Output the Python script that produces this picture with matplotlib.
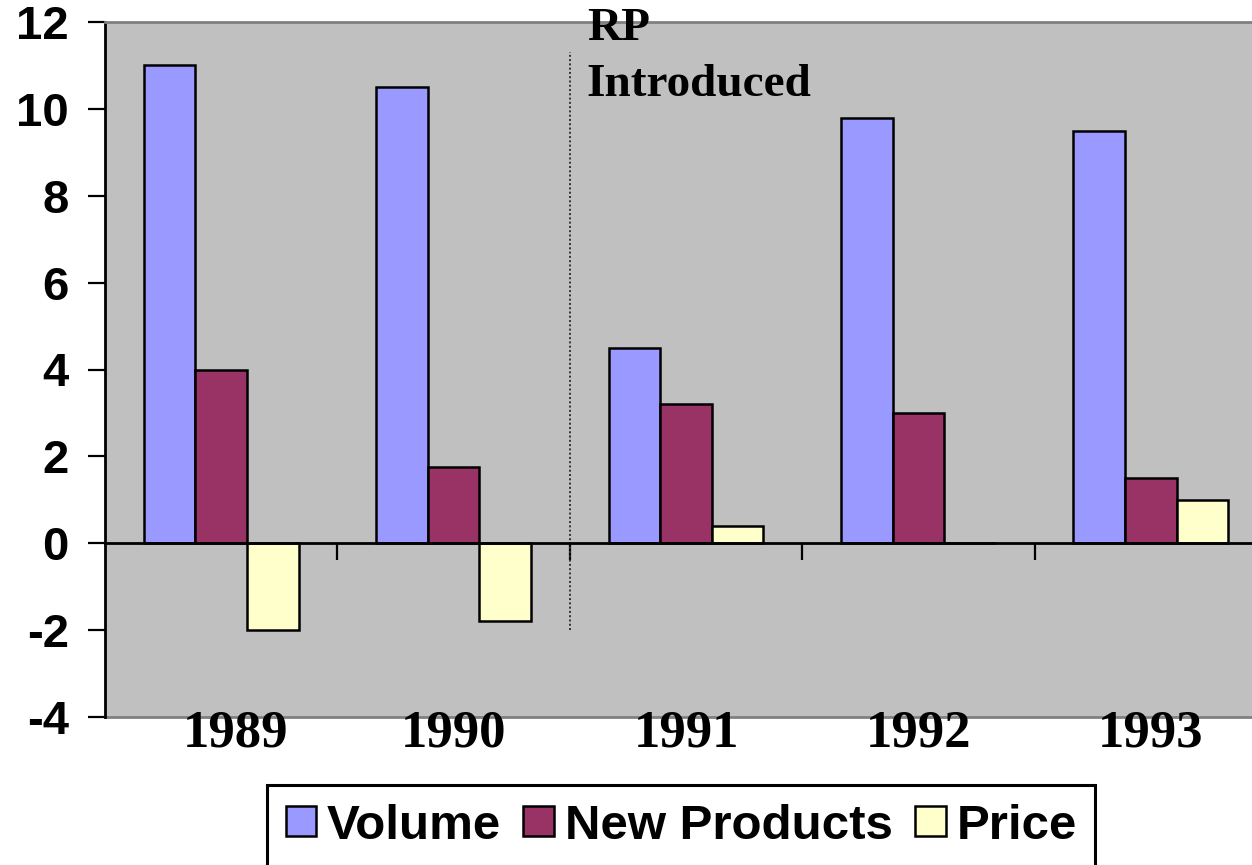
import numpy as np
import matplotlib.pyplot as plt
from matplotlib.lines import Line2D

plt.rcParams['axes.unicode_minus'] = False

years = ['1989', '1990', '1991', '1992', '1993']
volume = [11.0, 10.5, 4.5, 9.8, 9.5]
new_products = [4.0, 1.75, 3.2, 3.0, 1.5]
price = [-2.0, -1.8, 0.4, 0.0, 1.0]

series = [('Volume', volume, '#9999FF'),
          ('New Products', new_products, '#993366'),
          ('Price', price, '#FFFFCC')]

fig = plt.figure(figsize=(12.52, 8.65), dpi=100)
ax = fig.add_axes([105 / 1252, 148 / 865, 1162 / 1252, 695 / 865])
ax.set_facecolor('#C0C0C0')

x = np.arange(len(years))
w = 0.222
for i, (name, vals, col) in enumerate(series):
    ax.bar(x + (i - 1) * w, vals, w, color=col, edgecolor='black',
           linewidth=1.8, label=name, zorder=3)

ax.set_xlim(-0.5, len(years) - 0.5)
ax.set_ylim(-4, 12)
ax.set_yticks(range(-4, 13, 2))

# category axis sits on the zero line
ax.spines['bottom'].set_position(('data', 0))
ax.spines['bottom'].set_linewidth(2)
ax.spines['bottom'].set_zorder(4)
ax.spines['left'].set_linewidth(2)
ax.spines['right'].set_visible(False)
ax.spines['top'].set_color('#808080')
ax.spines['top'].set_linewidth(2)
ax.set_xticks(x[:-1] + 0.5)
ax.set_xticklabels([])
ax.tick_params(axis='x', direction='out', length=12, width=1.6)
ax.tick_params(axis='y', direction='out', length=12, width=1.6, pad=14)
for lab in ax.get_yticklabels():
    lab.set_fontfamily('Liberation Sans')
    lab.set_fontweight('bold')
    lab.set_fontsize(34)

# lower border of the plot area
ax.add_line(Line2D([0, 1], [0, 0], transform=ax.transAxes, color='#808080',
                   lw=2, clip_on=False, zorder=2))

# year labels below the plot; the first one nudged clear of the "-4" label
label_shift = [0.06, 0, 0, 0, 0]
for xi, yr, dx in zip(x, years, label_shift):
    ax.text(xi + dx, -4.68, yr, ha='center', va='baseline', fontsize=38,
            fontfamily='Liberation Serif', fontweight='bold', clip_on=False,
            zorder=6)

# marker between 1990 and 1991
ax.plot([1.5, 1.5], [-2.0, 11.3], color='#333333', lw=1.4, ls=(0, (1, 1.2)),
        zorder=2)
ax.text(1.573, 10.3, 'RP\nIntroduced', ha='left', va='baseline',
        fontsize=34, fontfamily='Liberation Serif', fontweight='bold',
        linespacing=1.42, clip_on=False, zorder=6)

leg = fig.legend(loc='upper left', bbox_to_anchor=(267 / 1252, 1 - 785 / 865),
                 ncol=3, prop={'family': 'Liberation Sans', 'weight': 'bold',
                               'size': 35.5},
                 frameon=True, fancybox=False, framealpha=1,
                 handlelength=0.62, handleheight=0.55, handletextpad=0.22,
                 columnspacing=0.45, borderpad=0.38, borderaxespad=0)
leg.get_frame().set_edgecolor('black')
leg.get_frame().set_linewidth(2.2)

fig.savefig('out.png', dpi=100)
